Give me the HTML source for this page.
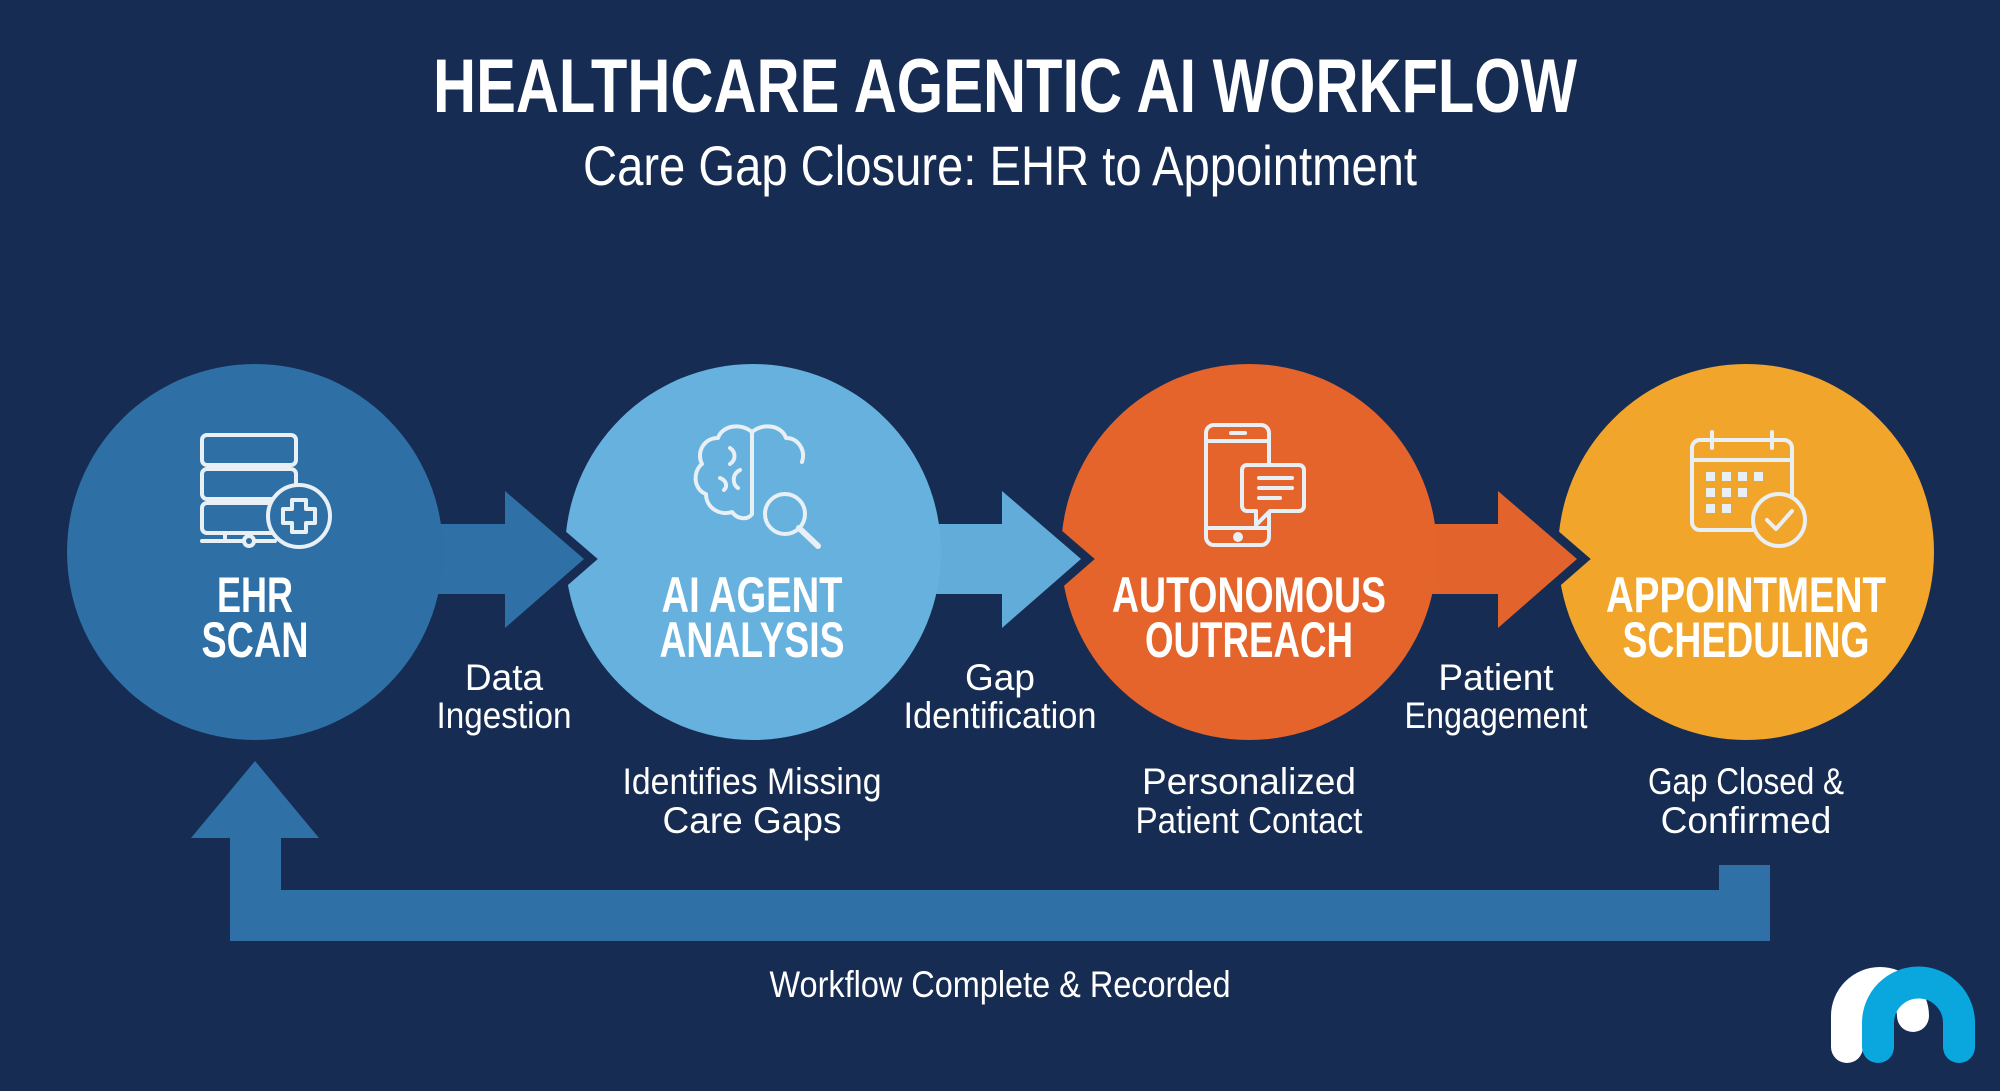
<!DOCTYPE html>
<html><head><meta charset="utf-8"><style>
html,body{margin:0;padding:0;background:#172c53;}
svg{display:block}
text{font-family:"Liberation Sans Narrow","Liberation Sans",sans-serif;fill:#fff}
.b{font-weight:bold}
</style></head><body>
<svg width="2000" height="1091" viewBox="0 0 2000 1091" xmlns="http://www.w3.org/2000/svg">
<rect width="2000" height="1091" fill="#172c53"/>
<text class="b" x="1005" y="112" font-size="76" text-anchor="middle" textLength="1144" lengthAdjust="spacingAndGlyphs">HEALTHCARE AGENTIC AI WORKFLOW</text>
<text x="1000" y="185" font-size="56" text-anchor="middle" textLength="834" lengthAdjust="spacingAndGlyphs">Care Gap Closure: EHR to Appointment</text>

<!-- arrow shafts under circles -->
<rect x="255" y="524" width="255" height="70" fill="#2f71a7"/>
<rect x="753" y="524" width="254" height="70" fill="#62acda"/>
<rect x="1249" y="524" width="254" height="70" fill="#e2632b"/>

<!-- circles -->
<circle cx="255" cy="552" r="188" fill="#2e6fa5"/>
<circle cx="753" cy="552" r="188" fill="#66b1dd"/>
<circle cx="1249" cy="552" r="188" fill="#e4642b"/>
<circle cx="1746" cy="552" r="188" fill="#f2a52b"/>

<!-- arrowheads: dark outline, then fill -->
<g stroke="#172c53" stroke-width="18" fill="none" stroke-linejoin="miter">
<polyline points="505,491 584,559 505,628"/>
<polyline points="1002,491 1081,559 1002,628"/>
<polyline points="1498,491 1577,559 1498,628"/>
</g>
<polygon points="498,524 505,524 505,491 584,559 505,628 505,594 498,594" fill="#2f71a7"/>
<polygon points="995,524 1002,524 1002,491 1081,559 1002,628 1002,594 995,594" fill="#62acda"/>
<polygon points="1491,524 1498,524 1498,491 1577,559 1498,628 1498,594 1491,594" fill="#e2632b"/>

<!-- icons -->
<g fill="none" stroke="#e8f0f6" stroke-width="4" stroke-linecap="round" stroke-linejoin="round">
 <rect x="202" y="435" width="94" height="30" rx="5"/>
 <rect x="202" y="469" width="94" height="30" rx="5"/>
 <rect x="202" y="503" width="94" height="30" rx="5"/>
 <line x1="225" y1="533" x2="225" y2="538"/>
 <line x1="249" y1="533" x2="249" y2="536"/>
 <circle cx="249" cy="541" r="5"/>
 <line x1="202" y1="541" x2="244" y2="541"/><line x1="254" y1="541" x2="275" y2="541"/>
 <circle cx="299" cy="516" r="31" fill="#2e6fa5"/>
 <path d="M292,500 h14 v9 h9 v14 h-9 v9 h-14 v-9 h-9 v-14 h9 z"/>
 <path d="M752,432 c-12,-10 -30,-6 -34,6 c-14,0 -22,14 -16,26 c-10,8 -8,26 4,30 c0,14 14,22 26,18 c6,8 16,8 20,2 z"/>
 <path d="M752,432 c12,-10 30,-6 34,6 c12,0 20,12 16,24"/>
 <line x1="752" y1="432" x2="752" y2="514"/>
 <path d="M730,448 c6,4 6,12 0,16 M740,470 c-8,4 -8,14 -2,18 M720,478 c6,2 8,8 4,12"/>
 <circle cx="785" cy="514" r="20" fill="#66b1dd"/>
 <line x1="799" y1="528" x2="818" y2="546" stroke-width="6"/>
 <rect x="1206" y="425" width="63" height="120" rx="8"/>
 <line x1="1206" y1="441" x2="1269" y2="441"/><line x1="1206" y1="528" x2="1269" y2="528"/>
 <line x1="1231" y1="433" x2="1245" y2="433"/>
 <circle cx="1238" cy="537" r="3" fill="#e8f0f6"/>
 <path d="M1247,465 h52 a5,5 0 0 1 5,5 v36 a5,5 0 0 1 -5,5 h-29 l-14,14 v-14 h-9 a5,5 0 0 1 -5,-5 v-36 a5,5 0 0 1 5,-5 z" fill="#e4642b"/>
 <line x1="1259" y1="478" x2="1292" y2="478"/><line x1="1259" y1="488" x2="1292" y2="488"/><line x1="1259" y1="498" x2="1280" y2="498"/>
 <rect x="1692" y="440" width="100" height="90" rx="8"/>
 <line x1="1692" y1="460" x2="1792" y2="460"/>
 <line x1="1712" y1="432" x2="1712" y2="448"/><line x1="1772" y1="432" x2="1772" y2="448"/>
 <g fill="#e8f0f6" stroke="none">
  <rect x="1706" y="472" width="9" height="9"/><rect x="1722" y="472" width="9" height="9"/><rect x="1738" y="472" width="9" height="9"/><rect x="1754" y="472" width="9" height="9"/>
  <rect x="1706" y="488" width="9" height="9"/><rect x="1722" y="488" width="9" height="9"/><rect x="1738" y="488" width="9" height="9"/>
  <rect x="1706" y="504" width="9" height="9"/><rect x="1722" y="504" width="9" height="9"/>
 </g>
 <circle cx="1779" cy="520" r="26" fill="#f2a52b"/>
 <polyline points="1767,520 1776,529 1792,511"/>
</g>

<g class="b" font-size="50" text-anchor="middle">
<text class="b" x="255" y="612" textLength="76" lengthAdjust="spacingAndGlyphs">EHR</text>
<text class="b" x="255" y="657" textLength="107" lengthAdjust="spacingAndGlyphs">SCAN</text>
<text class="b" x="752" y="612" textLength="181" lengthAdjust="spacingAndGlyphs">AI AGENT</text>
<text class="b" x="752" y="657" textLength="185" lengthAdjust="spacingAndGlyphs">ANALYSIS</text>
<text class="b" x="1249" y="612" textLength="274" lengthAdjust="spacingAndGlyphs">AUTONOMOUS</text>
<text class="b" x="1249" y="657" textLength="208" lengthAdjust="spacingAndGlyphs">OUTREACH</text>
<text class="b" x="1746" y="612" textLength="280" lengthAdjust="spacingAndGlyphs">APPOINTMENT</text>
<text class="b" x="1746" y="657" textLength="247" lengthAdjust="spacingAndGlyphs">SCHEDULING</text>
</g>

<g font-size="37" text-anchor="middle">
<text x="504" y="690">Data</text>
<text x="504" y="728" textLength="135" lengthAdjust="spacingAndGlyphs">Ingestion</text>
<text x="1000" y="690">Gap</text>
<text x="1000" y="728" textLength="193" lengthAdjust="spacingAndGlyphs">Identification</text>
<text x="1496" y="690">Patient</text>
<text x="1496" y="728" textLength="183" lengthAdjust="spacingAndGlyphs">Engagement</text>
<text x="752" y="794" textLength="259" lengthAdjust="spacingAndGlyphs">Identifies Missing</text>
<text x="752" y="833">Care Gaps</text>
<text x="1249" y="794">Personalized</text>
<text x="1249" y="833" textLength="227" lengthAdjust="spacingAndGlyphs">Patient Contact</text>
<text x="1746" y="794" textLength="196" lengthAdjust="spacingAndGlyphs">Gap Closed &amp;</text>
<text x="1746" y="833">Confirmed</text>
<text x="1000" y="997" textLength="461" lengthAdjust="spacingAndGlyphs">Workflow Complete &amp; Recorded</text>
</g>

<polygon points="1719,865 1770,865 1770,941 230,941 230,838 191,838 255,761 319,838 281,838 281,890 1719,890" fill="#2f71a7"/>

<g fill="none" stroke-linecap="round" stroke-width="32">
<path d="M1847,1047 L1847,1016 A33,33 0 0 1 1913,1016" stroke="#ffffff"/>
<path d="M1878,1047 L1878,1023 A40.5,40.5 0 0 1 1959,1023 L1959,1047" stroke="#0aa7df"/>
</g>
</svg>
</body></html>
